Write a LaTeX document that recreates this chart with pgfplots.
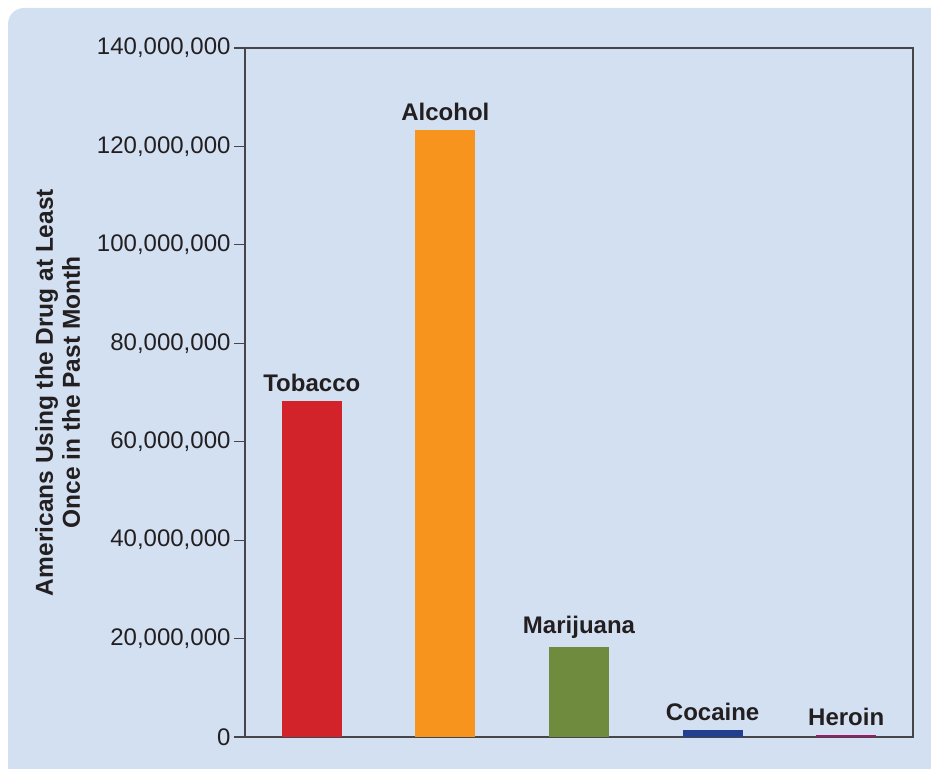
\documentclass[border=0pt]{standalone}
\usepackage{pgfplots}
\pgfplotsset{compat=1.18}
\usepackage{fontspec}
\setmainfont{Liberation Sans}
\definecolor{bg}{HTML}{D3E0F1}
\definecolor{txt}{HTML}{231F20}
\definecolor{axc}{HTML}{45454A}
\definecolor{ctob}{HTML}{D2232A}
\definecolor{calc}{HTML}{F7941D}
\definecolor{cmar}{HTML}{6F8B3E}
\definecolor{ccoc}{HTML}{233F8F}
\definecolor{cher}{HTML}{9B1B6A}
\begin{document}
\begin{tikzpicture}[x=1pt,y=1pt]
\useasboundingbox (0,0) rectangle (931,768);
\fill[bg, rounded corners=16pt] (8,-40) rectangle (990,760);
\begin{axis}[
  at={(245pt,31pt)}, anchor=south west,
  scale only axis, width=668pt, height=689pt,
  xmin=-0.5, xmax=4.5, ymin=0, ymax=140000000,
  scaled y ticks=false,
  xtick=\empty,
  ytick={0,20000000,40000000,60000000,80000000,100000000,120000000,140000000},
  yticklabels={0,{20,000,000},{40,000,000},{60,000,000},{80,000,000},{100,000,000},{120,000,000},{140,000,000}},
  ytick pos=left,
  tick align=outside,
  major tick length=11pt,
  tick style={axc, line width=1.2pt},
  axis line style={axc, line width=1.6pt},
  yticklabel style={font=\fontsize{24}{28}\selectfont, text=txt},
  ylabel={\textbf{Americans Using the Drug at Least}\\\textbf{Once in the Past Month}},
  ylabel style={align=center, font=\fontsize{24.5}{27}\selectfont, text=txt, yshift=10pt},
  ybar, bar width=60pt, bar shift=0pt,
  nodes near coords style={font=\bfseries\fontsize{24}{27}\selectfont, text=txt, anchor=south, inner sep=9pt},
  axis background/.style={fill=none},
  clip=false,
]
\addplot[fill=ctob, draw=none, nodes near coords={Tobacco}] coordinates {(0,68200000)};
\addplot[fill=calc, draw=none, nodes near coords={Alcohol}] coordinates {(1,123300000)};
\addplot[fill=cmar, draw=none, nodes near coords={Marijuana}] coordinates {(2,18200000)};
\addplot[fill=ccoc, draw=none, nodes near coords={Cocaine}] coordinates {(3,1500000)};
\addplot[fill=cher, draw=none, nodes near coords={Heroin}] coordinates {(4,400000)};
\end{axis}
\end{tikzpicture}
\end{document}
